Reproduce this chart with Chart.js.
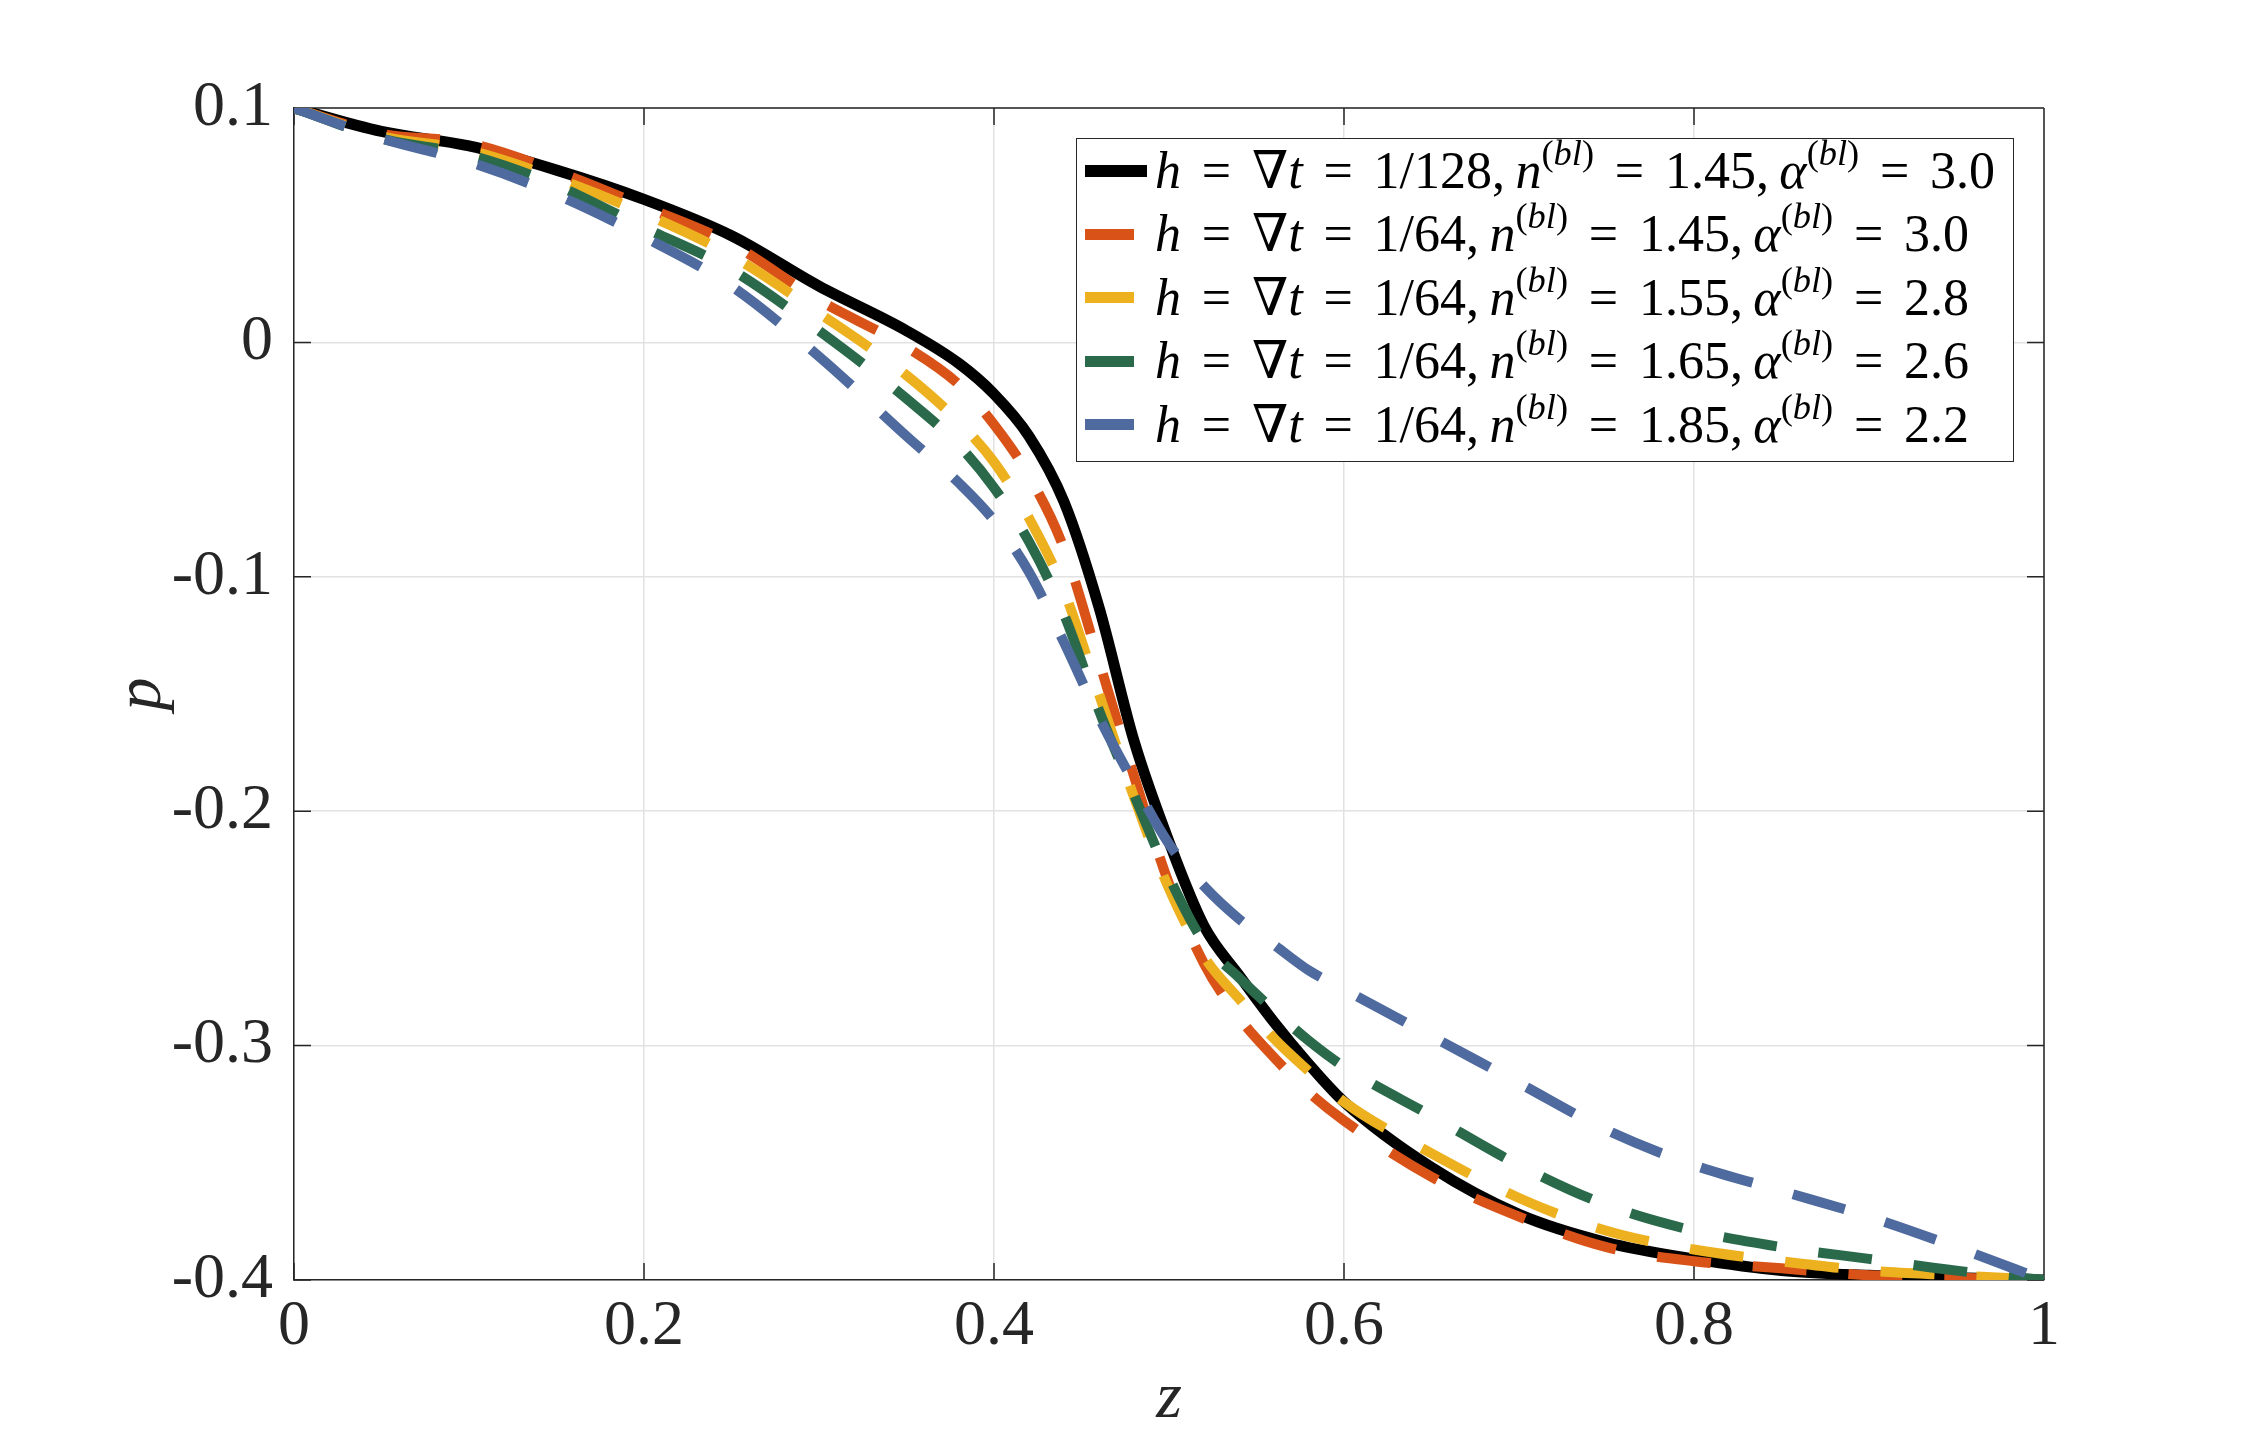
<!DOCTYPE html>
<html>
<head>
<meta charset="utf-8">
<script src="https://cdn.jsdelivr.net/npm/chart.js@4.4.1/dist/chart.umd.min.js"></script>
<style>
  body { margin: 0; background: #fff; }
  #wrap { position: relative; width: 2259px; height: 1438px; }
  #legend {
    position: absolute; left: 1076px; top: 138px; width: 938px; height: 324px;
    box-sizing: border-box; border: 1.5px solid #262626; background: #fff;
    font-family: 'Liberation Serif', 'DejaVu Serif', serif; font-size: 52px; color: #000;
  }
  .row { position: absolute; left: 0; height: 63.5px; width: 100%; }
  .swatch { position: absolute; top: 50%; left: 8px; }
  .txt { position: absolute; left: 78px; top: 50%; transform: translateY(-50%); white-space: nowrap; line-height: 1; }
  .op { margin: 0 0.4em; }
  .cm { margin-right: 0.2em; }
  sup { font-size: 0.7em; line-height: 0; vertical-align: 0.62em; }
</style>
</head>
<body>
<div id="wrap">
  <canvas id="chart" width="2259" height="1438"></canvas>
  <div id="legend"></div>
</div>
<script>
// z positions shared by all curves
const zGrid = [0, 0.05, 0.1, 0.15, 0.2, 0.25, 0.3, 0.35, 0.38, 0.4, 0.42, 0.44, 0.46, 0.48,
  0.5, 0.52, 0.54, 0.56, 0.58, 0.6, 0.65, 0.7, 0.75, 0.8, 0.85, 0.9, 0.95, 1];

// p values
const pH128 = [0.100, 0.090, 0.0838, 0.0735, 0.061, 0.0455, 0.024, 0.005, -0.009, -0.022, -0.040, -0.068, -0.113, -0.170,
  -0.213, -0.249, -0.270, -0.290, -0.308, -0.324, -0.352, -0.372, -0.384, -0.391, -0.396, -0.398, -0.399, -0.400];
const pH64n145 = [0.100, 0.089, 0.085, 0.073, 0.058, 0.042, 0.018, -0.002, -0.018, -0.035, -0.057, -0.088, -0.136, -0.185,
  -0.231, -0.265, -0.288, -0.305, -0.320, -0.332, -0.356, -0.373, -0.386, -0.392, -0.395, -0.398, -0.399, -0.400];
const pH64n155 = [0.100, 0.088, 0.082, 0.070, 0.055, 0.037, 0.0125, -0.014, -0.034, -0.051, -0.075, -0.106, -0.150, -0.194,
  -0.233, -0.262, -0.280, -0.297, -0.311, -0.324, -0.346, -0.365, -0.379, -0.387, -0.392, -0.396, -0.398, -0.400];
const pH64n165 = [0.100, 0.087, 0.080, 0.067, 0.049, 0.031, 0.005, -0.024, -0.044, -0.062, -0.085, -0.116, -0.157, -0.193,
  -0.228, -0.256, -0.271, -0.285, -0.298, -0.309, -0.330, -0.351, -0.368, -0.379, -0.386, -0.391, -0.396, -0.400];
const pH64n185 = [0.100, 0.087, 0.077, 0.063, 0.045, 0.024, -0.006, -0.040, -0.060, -0.076, -0.098, -0.128, -0.160, -0.188,
  -0.214, -0.232, -0.246, -0.257, -0.268, -0.276, -0.296, -0.316, -0.336, -0.351, -0.362, -0.373, -0.386, -0.400];

const stepSizes = ['1/128', '1/64', '1/64', '1/64', '1/64'];
const nBl = ['1.45', '1.45', '1.55', '1.65', '1.85'];
const alphaBl = ['3.0', '3.0', '2.8', '2.6', '2.2'];

const xTickValues = [0, 0.2, 0.4, 0.6, 0.8, 1];
const xTickLabels = ['0', '0.2', '0.4', '0.6', '0.8', '1'];
const yTickValues = [-0.4, -0.3, -0.2, -0.1, 0, 0.1];
const yTickLabels = ['-0.4', '-0.3', '-0.2', '-0.1', '0', '0.1'];

const series = [pH128, pH64n145, pH64n155, pH64n165, pH64n185];
const colors = ['#000000', '#D95319', '#EDB120', '#2A6A4B', '#4F6A9E'];

const AXIS = '#262626';
const SERIF = "'Liberation Serif', 'DejaVu Serif', serif";

const datasets = series.map((vals, i) => ({
  label: 'h = ∇t = ' + stepSizes[i] + ', n(bl) = ' + nBl[i] + ', α(bl) = ' + alphaBl[i],
  data: zGrid.map((z, k) => ({ x: z, y: vals[k] })),
  borderColor: colors[i],
  borderWidth: i === 0 ? 11 : 10,
  borderDash: i === 0 ? [] : [54, 42],
  borderCapStyle: 'butt',
  pointRadius: 0,
  cubicInterpolationMode: 'monotone',
  fill: false,
  order: 5 - i
}));

// box + inward ticks like the original axes
const boxTicks = {
  id: 'boxTicks',
  beforeDatasetsDraw(chart) {
    const { ctx, chartArea: a, scales: { x, y } } = chart;
    const len = 17;
    ctx.save();
    ctx.strokeStyle = AXIS;
    ctx.lineWidth = 1.5;
    ctx.beginPath();
    ctx.moveTo(a.left, a.top); ctx.lineTo(a.right, a.top);
    ctx.moveTo(a.right, a.top); ctx.lineTo(a.right, a.bottom);
    xTickValues.forEach((v) => {
      const px = x.getPixelForValue(v);
      ctx.moveTo(px, a.bottom); ctx.lineTo(px, a.bottom - len);
      ctx.moveTo(px, a.top); ctx.lineTo(px, a.top + len);
    });
    yTickValues.forEach((v) => {
      const py = y.getPixelForValue(v);
      ctx.moveTo(a.left, py); ctx.lineTo(a.left + len, py);
      ctx.moveTo(a.right, py); ctx.lineTo(a.right - len, py);
    });
    ctx.stroke();
    ctx.restore();
  }
};

new Chart(document.getElementById('chart'), {
  type: 'line',
  data: { datasets },
  plugins: [boxTicks],
  options: {
    responsive: false,
    animation: false,
    layout: { padding: { left: 0, top: 108, right: 215, bottom: 0 } },
    plugins: { legend: { display: false }, tooltip: { enabled: false } },
    scales: {
      x: {
        type: 'linear', min: 0, max: 1,
        afterBuildTicks: (s) => { s.ticks = xTickValues.map((v) => ({ value: v })); },
        afterFit: (s) => { s.height = 158; },
        ticks: {
          callback: (v, i) => xTickLabels[i],
          font: { family: SERIF, size: 64, lineHeight: 1 }, color: AXIS, padding: 15, maxRotation: 0
        },
        grid: { color: '#e2e2e2', lineWidth: 1.5, drawTicks: false },
        border: { color: AXIS, width: 1.5 },
        title: {
          display: true, text: 'z', color: AXIS,
          font: { family: SERIF, size: 66, style: 'italic', lineHeight: 1 },
          padding: { top: 0, bottom: 5 }
        }
      },
      y: {
        type: 'linear', min: -0.4, max: 0.1,
        afterBuildTicks: (s) => { s.ticks = yTickValues.map((v) => ({ value: v })); },
        afterFit: (s) => { s.width = 294; },
        ticks: {
          callback: (v, i) => yTickLabels[i],
          font: { family: SERIF, size: 64, lineHeight: 1 }, color: AXIS, padding: 21
        },
        grid: { color: '#e2e2e2', lineWidth: 1.5, drawTicks: false },
        border: { color: AXIS, width: 1.5 },
        title: {
          display: true, text: 'p', color: AXIS,
          font: { family: SERIF, size: 66, style: 'italic', lineHeight: 1 },
          padding: { top: 110, bottom: 0 }
        }
      }
    }
  }
});

// legend with math-style text
const legend = document.getElementById('legend');
series.forEach((vals, i) => {
  const row = document.createElement('div');
  row.className = 'row';
  row.style.top = (i * 63.5) + 'px';
  const sw = document.createElement('div');
  sw.className = 'swatch';
  const w = i === 0 ? 62 : 49, h = i === 0 ? 12 : 11;
  sw.style.cssText = 'width:' + w + 'px;height:' + h + 'px;margin-top:' + (-h / 2) + 'px;background:' + colors[i];
  const txt = document.createElement('div');
  txt.className = 'txt';
  txt.innerHTML = '<i>h</i><span class="op">=</span>∇<i>t</i><span class="op">=</span>' + stepSizes[i] +
    '<span class="cm">,</span><i>n</i><sup>(<i>bl</i>)</sup><span class="op">=</span>' + nBl[i] +
    '<span class="cm">,</span><i>α</i><sup>(<i>bl</i>)</sup><span class="op">=</span>' + alphaBl[i];
  row.appendChild(sw);
  row.appendChild(txt);
  legend.appendChild(row);
});
</script>
</body>
</html>
